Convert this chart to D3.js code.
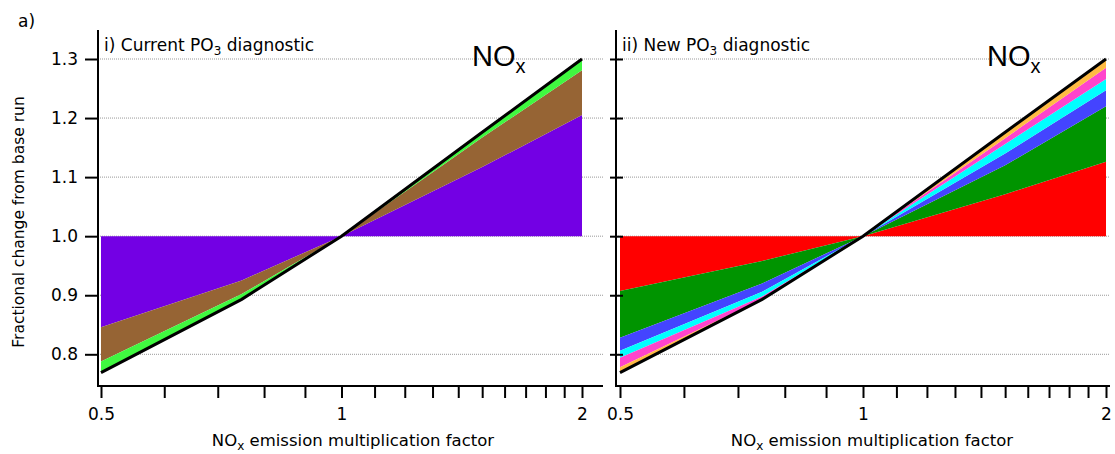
<!DOCTYPE html>
<html>
<head>
<meta charset="utf-8">
<script src="https://cdn.jsdelivr.net/npm/d3@7"></script>
<style>
  body { margin: 0; background: #fff; }
  svg text { font-family: "DejaVu Sans", sans-serif; fill: #000; }
</style>
</head>
<body>
<svg width="1115" height="454"></svg>
<script>
// emission multiplication factors the model was run at
var factors = [0.5, 0.75, 1, 1.5, 2];
// total fractional change (black line), same in both panels
var totalChange = [0.769, 0.893, 1.0, 1.176, 1.30];

// i) current diagnostic: upper edge of each stacked band, starting from 1.0
var currentPurple = [0.846, 0.925, 1.0, 1.117, 1.205];
var currentBrown  = [0.788, 0.902, 1.0, 1.167, 1.281];
var currentGreen  = totalChange;

// ii) new diagnostic
var newRed     = [0.907, 0.958, 1.0, 1.071, 1.126];
var newGreen   = [0.828, 0.920, 1.0, 1.120, 1.220];
var newBlue    = [0.806, 0.906, 1.0, 1.140, 1.247];
var newCyan    = [0.794, 0.898, 1.0, 1.156, 1.266];
var newMagenta = [0.778, 0.893, 1.0, 1.166, 1.285];
var newOrange  = totalChange;

var xTicks = [0.5, 0.6, 0.7, 0.8, 0.9, 1, 1.1, 1.2, 1.3, 1.4, 1.5, 1.6, 1.7, 1.8, 1.9, 2];
var xLabels = [0.5, 1, 2];
var yTicks = [0.8, 0.9, 1.0, 1.1, 1.2, 1.3];

var svg = d3.select("svg");

var y = d3.scaleLinear().domain([0.8, 1.3]).range([354.3, 59]);
var axisTop = 30, axisBottom = 386;

function drawPanel(opt) {
    var x = d3.scaleLog().base(10).domain([0.5, 2]).range(opt.range);
    var g = svg.append("g");

    // grid
    g.selectAll("line.grid")
        .data(yTicks)
        .enter().append("line")
        .attr("class", "grid")
        .attr("x1", opt.axisX).attr("x2", opt.right)
        .attr("y1", function(d){ return y(d); })
        .attr("y2", function(d){ return y(d); })
        .attr("stroke", "#999")
        .attr("stroke-width", 1)
        .attr("stroke-dasharray", "1,1");

    // stacked bands between consecutive edges
    var edges = [factors.map(function(){ return 1.0; })].concat(opt.bands.map(function(b){ return b.values; }));
    opt.bands.forEach(function(b, i) {
        var lo = edges[i], hi = edges[i + 1];
        var area = d3.area()
            .x(function(d, j){ return x(factors[j]); })
            .y0(function(d, j){ return y(lo[j]); })
            .y1(function(d, j){ return y(hi[j]); });
        g.append("path")
            .datum(factors)
            .attr("d", area)
            .attr("fill", b.color);
    });

    // total line
    var line = d3.line()
        .x(function(d, j){ return x(factors[j]); })
        .y(function(d){ return y(d); });
    g.append("path")
        .datum(totalChange)
        .attr("d", line)
        .attr("fill", "none")
        .attr("stroke", "#000")
        .attr("stroke-width", 3);

    // axes
    var xAxis = d3.axisBottom(x)
        .tickValues(xTicks)
        .tickSize(12)
        .tickPadding(10)
        .tickFormat(function(d){ return xLabels.indexOf(d) >= 0 ? d3.format("")(d) : ""; });
    var gx = g.append("g")
        .attr("transform", "translate(0," + axisBottom + ")")
        .call(xAxis);
    gx.select(".domain").remove();
    gx.selectAll("line").attr("stroke-width", 2);
    gx.selectAll("text").style("font-size", "17px").style("font-family", "DejaVu Sans");

    g.append("line")
        .attr("x1", opt.axisX - 1).attr("x2", opt.right)
        .attr("y1", axisBottom).attr("y2", axisBottom)
        .attr("stroke", "#000").attr("stroke-width", 2);

    var gy = g.append("g").attr("transform", "translate(" + opt.axisX + ",0)");
    gy.call(d3.axisLeft(y).tickValues(yTicks).tickSize(opt.tickIn).tickPadding(7)
        .tickFormat(opt.labels ? d3.format(".1f") : ""));
    if (opt.tickOut > 0) {
        gy.call(function(s){
            s.append("g").call(d3.axisRight(y).tickValues(yTicks).tickSize(opt.tickOut).tickFormat(""))
             .select(".domain").remove();
        });
    }
    gy.selectAll(".domain").remove();
    gy.selectAll("line").attr("stroke-width", 2);
    gy.selectAll("text").style("font-size", "17px").style("font-family", "DejaVu Sans");

    g.append("line")
        .attr("x1", opt.axisX).attr("x2", opt.axisX)
        .attr("y1", axisTop).attr("y2", axisBottom + 1)
        .attr("stroke", "#000").attr("stroke-width", 2);

    // panel text
    var t = g.append("text").attr("x", opt.axisX + 6).attr("y", 51).style("font-size", "17px");
    t.append("tspan").text(opt.title);
    t.append("tspan").attr("dy", 4).style("font-size", "12px").text("3");
    t.append("tspan").attr("dy", -4).text(" diagnostic");

    var n = g.append("text").attr("x", opt.noxX).attr("y", 66)
        .style("font-family", "Liberation Sans").style("font-size", "29px");
    n.append("tspan").text("NO");
    n.append("tspan").attr("dy", 7).style("font-size", "20px").text("x");

    var xl = g.append("text").attr("x", opt.labelX).attr("y", 446)
        .attr("text-anchor", "middle").style("font-size", "16.5px");
    xl.append("tspan").text("NO");
    xl.append("tspan").attr("dy", 4).style("font-size", "12px").text("x");
    xl.append("tspan").attr("dy", -4).text(" emission multiplication factor");
}

drawPanel({
    range: [101, 582], axisX: 98, right: 603, tickIn: 13, tickOut: 0, labels: true,
    title: "i) Current PO", noxX: 472, labelX: 353,
    bands: [
        { values: currentPurple, color: "#7300e4" },
        { values: currentBrown,  color: "#966434" },
        { values: currentGreen,  color: "#40f840" }
    ]
});

drawPanel({
    range: [620, 1106], axisX: 616, right: 1110, tickIn: 6, tickOut: 7, labels: false,
    title: "ii) New PO", noxX: 987, labelX: 872,
    bands: [
        { values: newRed,     color: "#ff0000" },
        { values: newGreen,   color: "#009400" },
        { values: newBlue,    color: "#4444ff" },
        { values: newCyan,    color: "#00ffff" },
        { values: newMagenta, color: "#ff44cc" },
        { values: newOrange,  color: "#ffbb44" }
    ]
});

svg.append("text").attr("x", 18).attr("y", 27).style("font-size", "17px").text("a)");

svg.append("text")
    .attr("transform", "translate(24,222) rotate(-90)")
    .attr("text-anchor", "middle")
    .style("font-size", "15.5px")
    .text("Fractional change from base run");
</script>
</body>
</html>
